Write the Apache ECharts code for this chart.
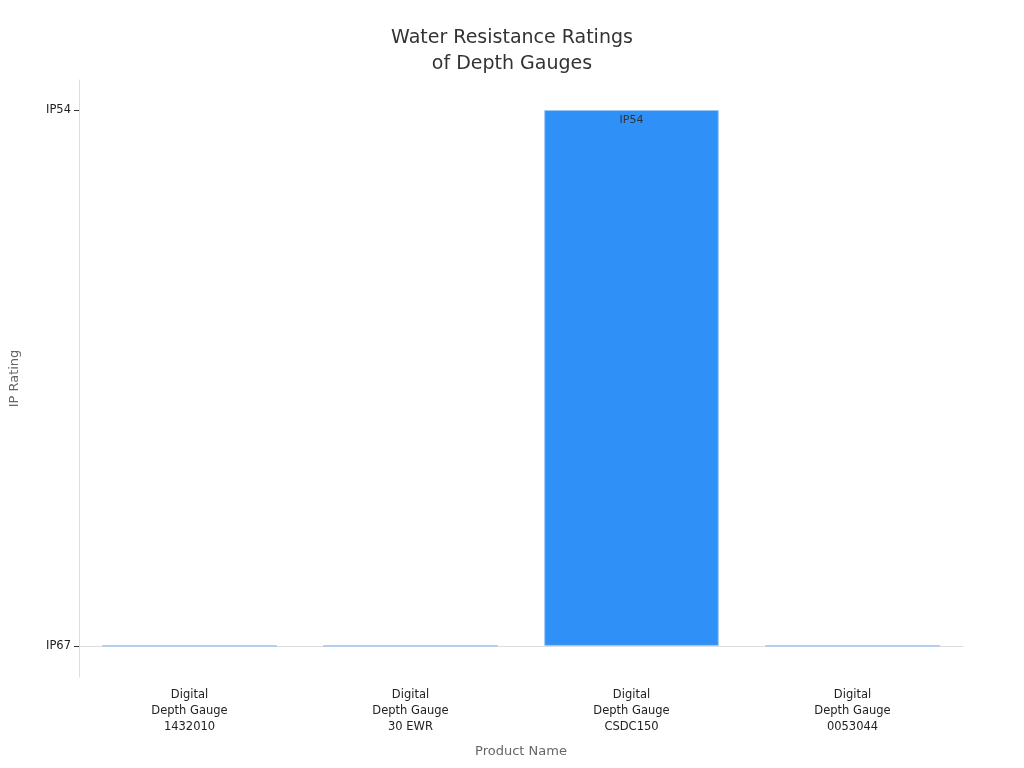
<!DOCTYPE html>
<html><head><meta charset="utf-8">
<script src="https://cdn.jsdelivr.net/npm/echarts@6/dist/echarts.min.js"></script>
<style>html,body{margin:0;padding:0}#c{width:1024px;height:768px}</style>
</head><body><div id="c"></div>
<script>
const categories = ["Digital\nDepth Gauge\n1432010","Digital\nDepth Gauge\n30 EWR","Digital\nDepth Gauge\nCSDC150","Digital\nDepth Gauge\n0053044"];
const ratingLevels = ["IP67","IP54"];
const ratingValues = [0, 0, 1, 0];
const barLabels = ["", "", "IP54", ""];
const chart = echarts.init(document.getElementById('c'));
chart.setOption({
  textStyle:{fontFamily:'DejaVu Sans'},
  title:{text:'Water Resistance Ratings\nof Depth Gauges',left:'center',top:20,textStyle:{fontSize:19,fontWeight:'normal',color:'#333',lineHeight:26,fontFamily:'DejaVu Sans'}},
  grid:{left:71,right:61,top:80,bottom:91},
  xAxis:{type:'category',data:categories,name:'Product Name',nameLocation:'middle',nameGap:68,
    nameTextStyle:{fontSize:13,color:'#666'},
    axisLine:{lineStyle:{color:'#ddd'}},axisTick:{show:false},
    axisLabel:{color:'#222',fontSize:11.5,lineHeight:16,margin:10}},
  yAxis:{type:'value',min:-0.058,max:1.056,name:'IP Rating',nameLocation:'middle',nameGap:58,
    nameTextStyle:{fontSize:13,color:'#666'},
    splitLine:{show:false},
    axisLine:{show:true,lineStyle:{color:'#ddd'}},
    axisTick:{show:true,customValues:[0,1],lineStyle:{color:'#333'}},
    axisLabel:{customValues:[0,1],color:'#222',fontSize:11.5,formatter:v=>ratingLevels[Math.round(v)]}},
  series:[{type:'bar',barWidth:'79%',
    data:ratingValues.map((v,i)=>({value:v,label:{show:!!barLabels[i],formatter:barLabels[i]}})),
    itemStyle:{color:'#2f91f8',borderColor:'#9cc8f5',borderWidth:1},
    label:{position:'insideTop',color:'#333',fontSize:11,distance:5}}]
});
</script></body></html>
